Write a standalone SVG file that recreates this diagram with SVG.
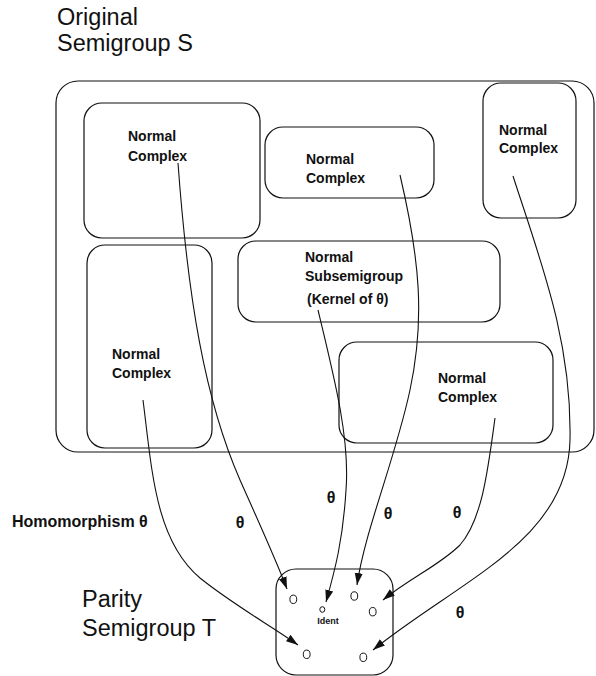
<svg xmlns="http://www.w3.org/2000/svg" width="596" height="676" viewBox="0 0 596 676">
<style>
  text { font-family: "Liberation Sans", Arial, Helvetica, sans-serif; fill: #111; }
  .title { font-size: 23.5px; }
  .lbl { font-size: 14px; font-weight: bold; }
  .th { font-size: 16px; font-weight: bold; text-anchor: middle; }
  .box { fill: none; stroke: #111; stroke-width: 1.2; }
  .conn { fill: none; stroke: #111; stroke-width: 1.1; marker-end: url(#arr); }
  .pt { fill: none; stroke: #111; stroke-width: 1; }
</style>
<defs>
  <marker id="arr" markerUnits="userSpaceOnUse" markerWidth="13" markerHeight="9" refX="12" refY="4" orient="auto">
    <path d="M0,0 L12,4 L0,8 z" fill="#111"/>
  </marker>
</defs>
<rect width="596" height="676" fill="#fff"/>

<g id="title-S">
  <text class="title" x="57" y="25">Original</text>
  <text class="title" x="57" y="51">Semigroup S</text>
</g>

<g id="semigroup-S">
  <rect class="box" x="56" y="81" width="538" height="371" rx="22"/>
</g>

<g id="complex1">
  <rect class="box" x="84" y="103" width="176" height="135" rx="18"/>
  <text class="lbl" x="128" y="141">Normal</text>
  <text class="lbl" x="128" y="161">Complex</text>
</g>

<g id="complex2">
  <rect class="box" x="265" y="127" width="169" height="71" rx="18"/>
  <text class="lbl" x="306" y="164">Normal</text>
  <text class="lbl" x="306" y="183">Complex</text>
</g>

<g id="complex3">
  <rect class="box" x="483" y="83" width="93" height="135" rx="18"/>
  <text class="lbl" x="499" y="135">Normal</text>
  <text class="lbl" x="499" y="153">Complex</text>
</g>

<g id="complex4">
  <rect class="box" x="87" y="245" width="125" height="203" rx="18"/>
  <text class="lbl" x="112" y="359">Normal</text>
  <text class="lbl" x="112" y="378">Complex</text>
</g>

<g id="subsemigroup">
  <rect class="box" x="238" y="241" width="262" height="81" rx="18"/>
  <text class="lbl" x="305" y="262">Normal</text>
  <text class="lbl" x="305" y="281">Subsemigroup</text>
  <text class="lbl" x="307" y="304">(Kernel of θ)</text>
</g>

<g id="complex5">
  <rect class="box" x="339" y="342" width="214" height="101" rx="18"/>
  <text class="lbl" x="438" y="383">Normal</text>
  <text class="lbl" x="438" y="402">Complex</text>
</g>

<g id="title-T">
  <text class="title" x="82" y="607">Parity</text>
  <text class="title" x="82" y="636">Semigroup T</text>
</g>

<g id="semigroup-T">
  <rect class="box" x="276" y="569" width="117" height="106" rx="20"/>
  <ellipse class="pt" cx="293.3" cy="599.3" rx="3.4" ry="4.2"/>
  <ellipse class="pt" cx="354.3" cy="596" rx="3.4" ry="4.2"/>
  <ellipse class="pt" cx="372.7" cy="611.7" rx="3.4" ry="4.2"/>
  <ellipse class="pt" cx="306.7" cy="654.3" rx="3.4" ry="4.2"/>
  <ellipse class="pt" cx="363.3" cy="657.3" rx="3.4" ry="4.2"/>
  <ellipse class="pt" cx="322.3" cy="609.5" rx="2.5" ry="2.8"/>
  <text x="328" y="624" font-size="9" font-weight="bold" text-anchor="middle">Ident</text>
</g>

<g id="connectors">
  <path class="conn" d="M178,163 C188,300 205,400 240,480 C260,525 276,560 287,589"/>
  <path class="conn" d="M400,175 C420,260 425,320 410,390 C395,460 365,530 357,585"/>
  <path class="conn" d="M513,176 C540,260 572,340 570,440 C568,540 460,580 373,650"/>
  <path class="conn" d="M143,400 C152,470 155,540 200,578 C235,606 270,625 298,645"/>
  <path class="conn" d="M318,310 C335,380 350,440 346,490 C343,540 335,570 326,602"/>
  <path class="conn" d="M495,418 C488,470 482,520 460,545 C440,565 410,578 383,600"/>
</g>

<g id="labels">
  <text x="12" y="527" font-size="16" font-weight="bold">Homomorphism θ</text>
  <text class="th" x="240" y="528">θ</text>
  <text class="th" x="331" y="503">θ</text>
  <text class="th" x="388" y="519">θ</text>
  <text class="th" x="457" y="518">θ</text>
  <text class="th" x="460" y="618">θ</text>
</g>
</svg>
